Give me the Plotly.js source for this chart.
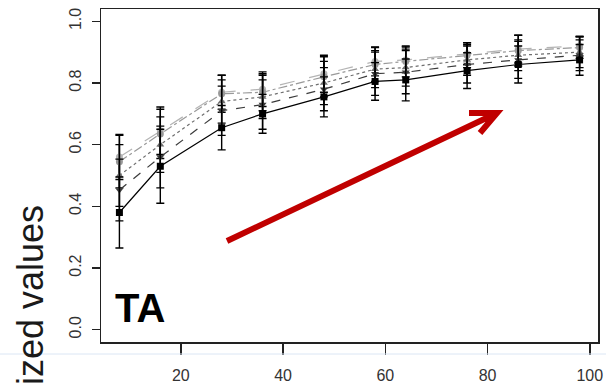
<!DOCTYPE html>
<html>
<head>
<meta charset="utf-8">
<script src="https://cdn.plot.ly/plotly-3.0.1.min.js"></script>
<style>html,body{margin:0;padding:0;background:#fff;}#chart{width:606px;height:386px;}</style>
</head>
<body>
<div id="chart"></div>
<script>
// Data
const xVals = [8, 16, 28, 36, 48, 58, 64, 76, 86, 98];
const s1 = [0.380, 0.530, 0.655, 0.700, 0.755, 0.805, 0.810, 0.840, 0.860, 0.875];
const s1Err = [0.115, 0.120, 0.072, 0.063, 0.065, 0.061, 0.068, 0.058, 0.060, 0.050];
const s2 = [0.453, 0.560, 0.710, 0.730, 0.780, 0.830, 0.835, 0.860, 0.875, 0.890];
const s2Err = [0.100, 0.100, 0.080, 0.080, 0.070, 0.070, 0.070, 0.060, 0.060, 0.050];
const s3 = [0.500, 0.600, 0.740, 0.755, 0.800, 0.845, 0.850, 0.875, 0.890, 0.900];
const s3Err = [0.100, 0.090, 0.070, 0.070, 0.070, 0.060, 0.060, 0.050, 0.050, 0.050];
const s4 = [0.545, 0.635, 0.765, 0.770, 0.820, 0.860, 0.870, 0.890, 0.905, 0.915];
const s4Err = [0.085, 0.080, 0.060, 0.060, 0.065, 0.055, 0.050, 0.040, 0.050, 0.035];
const s5 = [0.560, 0.645, 0.770, 0.780, 0.830, 0.870, 0.875, 0.895, 0.910, 0.920];
const s5Err = [0.073, 0.077, 0.055, 0.056, 0.060, 0.047, 0.042, 0.036, 0.045, 0.032];
const xTicks = [20, 40, 60, 80, 100];
const yTicks = [0.0, 0.2, 0.4, 0.6, 0.8, 1.0];
const panelLabel = "TA";
const yTitle = "Normalized values";

// plot frame in pixels
const L = 101, R = 598, T = 9, B = 342, W = 606, H = 386;
const px2paperX = p => (p - L) / (R - L);
const px2paperY = p => (B - p) / (B - T);

function series(y, err, color, dash, symbol) {
  return {
    x: xVals, y: y, type: 'scatter', mode: 'lines+markers',
    line: {color: color, width: 1.2, dash: dash},
    marker: {color: color, symbol: symbol, size: 7},
    error_y: {type: 'data', array: err, visible: true, color: '#000', thickness: 1.4, width: 4},
    showlegend: false, hoverinfo: 'skip'
  };
}

const data = [
  series(s5, s5Err, '#b4b4b4', 'longdash', 'circle'),
  series(s4, s4Err, '#999999', 'dashdot', 'circle'),
  series(s3, s3Err, '#6e6e6e', 'dot', 'triangle-up'),
  series(s2, s2Err, '#3a3a3a', 'dash', 'triangle-down'),
  series(s1, s1Err, '#000000', 'solid', 'square')
];

// arrow geometry (pixels -> paper)
const arrowStart = [227, 241], arrowTip = [497, 113], arm1 = [469, 113], arm2 = [480, 133];
const P = p => px2paperX(p[0]).toFixed(5) + ',' + px2paperY(p[1]).toFixed(5);
const arrowPath = 'M' + P(arrowStart) + ' L' + P(arrowTip) + ' M' + P(arm1) + ' L' + P(arrowTip) + ' L' + P(arm2);

const font = 'Liberation Sans, Arial, sans-serif';
const layout = {
  width: W, height: H,
  margin: {l: L, r: W - R, t: T, b: H - B, pad: 0},
  paper_bgcolor: '#fff', plot_bgcolor: '#fff',
  font: {family: font, color: '#222'},
  xaxis: {
    range: [4.4, 101.6], tickvals: xTicks, ticktext: xTicks.map(String),
    ticks: 'outside', ticklen: 11, tickwidth: 1.5, tickcolor: '#222',
    ticklabelstandoff: 7,
    showgrid: false, zeroline: false, showline: true, mirror: true,
    linecolor: '#222', linewidth: 1.5,
    tickfont: {size: 16, family: font, color: '#333'}
  },
  yaxis: {
    range: [-0.04, 1.04], tickvals: yTicks, ticktext: yTicks.map(v => v.toFixed(1)),
    ticks: 'outside', ticklen: 8, tickwidth: 1.5, tickcolor: '#222', tickangle: -90,
    ticklabelstandoff: 4,
    showgrid: false, zeroline: false, showline: true, mirror: true,
    linecolor: '#222', linewidth: 1.5,
    tickfont: {size: 16, family: font, color: '#333'}
  },
  shapes: [
    {type: 'line', xref: 'paper', yref: 'paper', x0: px2paperX(0), x1: px2paperX(606), y0: px2paperY(354), y1: px2paperY(354),
     line: {color: '#dbe6f4', width: 1}},
    {type: 'path', xref: 'paper', yref: 'paper', path: arrowPath, line: {color: '#C00000', width: 6}}
  ],
  annotations: [
    {text: '<b>' + panelLabel + '</b>', xref: 'paper', yref: 'paper', x: px2paperX(113), y: px2paperY(308),
     xanchor: 'left', yanchor: 'middle', showarrow: false, font: {size: 40, family: font, color: '#000'}},
    {text: yTitle, xref: 'paper', yref: 'paper', x: px2paperX(30), y: px2paperY(353),
     xanchor: 'center', yanchor: 'middle', textangle: -90, showarrow: false,
     font: {size: 36, family: font, color: '#1a1a1a'}}
  ]
};

Plotly.newPlot('chart', data, layout, {displayModeBar: false, staticPlot: true});
</script>
</body>
</html>
